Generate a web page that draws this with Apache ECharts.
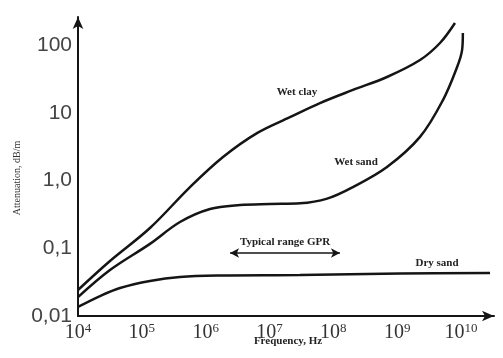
<!DOCTYPE html>
<html>
<head>
    <meta charset="utf-8" />
    <title>Attenuation vs frequency</title>
    <script src="https://cdn.jsdelivr.net/npm/echarts@6/dist/echarts.min.js"></script>
</head>
<body style="margin:0;background:#fff;">
    <div id="main" style="width:503px;height:358px;"></div>
    <script type="text/javascript">
        // values (frequency in Hz, attenuation in dB/m)
        var wetClayFreq = [1e4, 3.17e4, 1.34e5, 5.69e5, 1.87e6, 6.37e6, 2.09e7, 6.18e7, 2.03e8, 6.93e8, 2.28e9, 4.69e9, 8.05e9];
        var wetClayAtt  = [0.0242, 0.0648, 0.199, 0.80, 2.22, 5.0, 8.6, 13.9, 21.7, 33.7, 60, 107, 211];

        var wetSandFreq = [1e4, 3.17e4, 1.34e5, 3.96e5, 1.17e6, 3.45e6, 1.02e7, 3.01e7, 8.0e7, 2.03e8, 6.93e8, 2.28e9, 5.22e9, 8.67e9, 1.04e10, 1.07e10];
        var wetSandAtt  = [0.019, 0.0477, 0.116, 0.244, 0.38, 0.435, 0.45, 0.46, 0.54, 0.80, 1.58, 4.4, 15.4, 47, 84, 150];

        var drySandFreq = [1e4, 2.21e4, 4.55e4, 1.34e5, 3.96e5, 1.68e6, 3.0e7, 1.11e9, 2.85e10];
        var drySandAtt  = [0.0136, 0.0197, 0.0259, 0.0329, 0.0377, 0.0396, 0.0403, 0.0424, 0.0432];

        // GPR range arrow (Hz) and its height (dB/m)
        var gprRange = [2.41e6, 1.27e8];
        var gprLevel = 0.085;

        var yTickLabels = ['0,01', '0,1', '1,0', '10', '100'];  // 10^-2 .. 10^2

        function pairs(xs, ys) {
            var out = [];
            for (var i = 0; i < xs.length; i++) out.push([xs[i], ys[i]]);
            return out;
        }
        function powerOf(v) {
            var e = Math.log(v) / Math.LN10;
            var r = Math.round(e);
            return Math.abs(e - r) < 1e-6 ? r : null;
        }

        var chart = echarts.init(document.getElementById('main'));
        var lineStyle = { color: '#151515', width: 2.5 };

        var option = {
            backgroundColor: '#fff',
            animation: false,
            grid: { left: 78, right: 9, top: 17, bottom: 42 },
            xAxis: {
                type: 'log',
                min: 1e4,
                max: 3.29e10,
                axisLine: { lineStyle: { color: '#151515', width: 2 }, symbol: ['none', 'arrow'], symbolSize: [8, 12] },
                axisTick: { show: false },
                splitLine: { show: false },
                axisLabel: {
                    margin: 6,
                    formatter: function (v) {
                        var p = powerOf(v);
                        return p === null ? '' : '{b|10}{s|' + p + '}';
                    },
                    rich: {
                        b: { fontFamily: 'Liberation Serif', fontSize: 20, color: '#333' },
                        s: { fontFamily: 'Liberation Serif', fontSize: 13, color: '#333', padding: [0, 0, 9, 0] }
                    }
                }
            },
            yAxis: {
                type: 'log',
                min: 0.01,
                max: 259,
                axisLine: { lineStyle: { color: '#151515', width: 2 }, symbol: ['none', 'arrow'], symbolSize: [8, 12] },
                axisTick: { show: false },
                splitLine: { show: false },
                axisLabel: {
                    margin: 6,
                    fontFamily: 'Liberation Sans',
                    fontSize: 21,
                    color: '#444',
                    formatter: function (v) {
                        var p = powerOf(v);
                        return p === null ? '' : yTickLabels[p + 2];
                    }
                }
            },
            series: [{
                name: 'Wet clay',
                type: 'line',
                smooth: 0.35,
                showSymbol: false,
                lineStyle: lineStyle,
                data: pairs(wetClayFreq, wetClayAtt)
            }, {
                name: 'Wet sand',
                type: 'line',
                smooth: 0.35,
                showSymbol: false,
                lineStyle: lineStyle,
                data: pairs(wetSandFreq, wetSandAtt)
            }, {
                name: 'Dry sand',
                type: 'line',
                smooth: 0.35,
                showSymbol: false,
                lineStyle: lineStyle,
                data: pairs(drySandFreq, drySandAtt),
                markLine: {
                    silent: true,
                    symbol: ['arrow', 'arrow'],
                    symbolSize: [7, 9],
                    label: { show: false },
                    lineStyle: { color: '#151515', width: 1.5, type: 'solid' },
                    data: [[{ coord: [gprRange[0], gprLevel] }, { coord: [gprRange[1], gprLevel] }]]
                }
            }],
            graphic: [
                { type: 'text', x: 288, y: 341, style: { text: 'Frequency, Hz', font: 'bold 11px "Liberation Serif"', fill: '#222', align: 'center', verticalAlign: 'middle' } },
                { type: 'text', x: 17, y: 178, rotation: Math.PI / 2, style: { text: 'Attenuation, dB/m', font: '10px "Liberation Serif"', fill: '#333', align: 'center', verticalAlign: 'middle' } },
                { type: 'text', x: 297, y: 92, style: { text: 'Wet clay', font: 'bold 11px "Liberation Serif"', fill: '#222', align: 'center', verticalAlign: 'middle' } },
                { type: 'text', x: 356, y: 162, style: { text: 'Wet sand', font: 'bold 11px "Liberation Serif"', fill: '#222', align: 'center', verticalAlign: 'middle' } },
                { type: 'text', x: 285, y: 242, style: { text: 'Typical range GPR', font: 'bold 11px "Liberation Serif"', fill: '#222', align: 'center', verticalAlign: 'middle' } },
                { type: 'text', x: 437, y: 263, style: { text: 'Dry sand', font: 'bold 11px "Liberation Serif"', fill: '#222', align: 'center', verticalAlign: 'middle' } }
            ]
        };
        chart.setOption(option);
    </script>
</body>
</html>
